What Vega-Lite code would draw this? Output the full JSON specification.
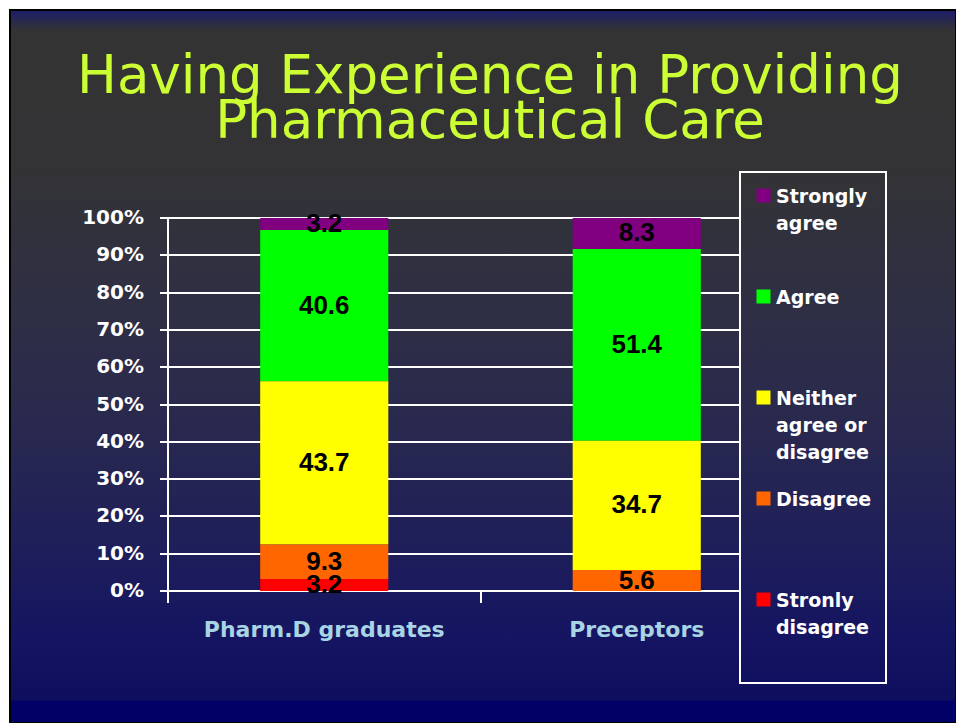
{
  "$schema": "https://vega.github.io/schema/vega-lite/v6.json",
  "width": 946,
  "height": 713,
  "autosize": {"type": "none"},
  "padding": {"left": 10, "top": 10, "right": 0, "bottom": 0},
  "background": "white",
  "view": {
    "fill": {
      "gradient": "linear", "x1": 0, "y1": 0, "x2": 0, "y2": 1,
      "stops": [
        {"offset": 0, "color": "#1c1c6c"},
        {"offset": 0.028, "color": "#333333"},
        {"offset": 0.22, "color": "#333336"},
        {"offset": 0.41, "color": "#2f2f44"},
        {"offset": 0.575, "color": "#29294e"},
        {"offset": 0.745, "color": "#1f1f5a"},
        {"offset": 0.885, "color": "#141462"},
        {"offset": 0.968, "color": "#0e0e5e"},
        {"offset": 0.969, "color": "#000066"},
        {"offset": 1, "color": "#000066"}
      ]
    },
    "stroke": "black",
    "strokeWidth": 2
  },
  "title": {
    "text": ["Having Experience in Providing", "Pharmaceutical Care"],
    "font": "DejaVu Sans",
    "fontSize": 53,
    "fontWeight": "normal",
    "color": "#ccff33",
    "lineHeight": 45,
    "anchor": "middle",
    "baseline": "alphabetic",
    "offset": -181,
    "dx": 7
  },
  "data": {"values": [
    {"group": "Pharm.D graduates", "response": "Strongly agree", "level": 5, "value": 3.2},
    {"group": "Pharm.D graduates", "response": "Agree", "level": 4, "value": 40.6},
    {"group": "Pharm.D graduates", "response": "Neither agree or disagree", "level": 3, "value": 43.7},
    {"group": "Pharm.D graduates", "response": "Disagree", "level": 2, "value": 9.3},
    {"group": "Pharm.D graduates", "response": "Stronly disagree", "level": 1, "value": 3.2},
    {"group": "Preceptors", "response": "Strongly agree", "level": 5, "value": 8.3},
    {"group": "Preceptors", "response": "Agree", "level": 4, "value": 51.4},
    {"group": "Preceptors", "response": "Neither agree or disagree", "level": 3, "value": 34.7},
    {"group": "Preceptors", "response": "Disagree", "level": 2, "value": 5.6}
  ]},
  "layer": [
    {
      "mark": {"type": "bar", "width": {"band": 0.41}},
      "encoding": {
        "x": {
          "field": "group",
          "type": "nominal",
          "scale": {"domain": ["Pharm.D graduates", "Preceptors"], "range": [158, 783], "paddingInner": 0, "paddingOuter": 0},
          "axis": {
            "orient": "bottom",
            "offset": -132,
            "translate": 0,
            "title": null,
            "grid": false,
            "labelAngle": 0,
            "domainColor": "white",
            "domainWidth": 2,
            "tickColor": "white",
            "tickWidth": 2,
            "tickSize": 12,
            "tickBand": "extent",
            "labelColor": "#a8d4e4",
            "labelFont": "DejaVu Sans",
            "labelFontWeight": "bold",
            "labelFontSize": 22,
            "labelLimit": 500,
            "labelPadding": 17
          }
        },
        "y": {
          "field": "value",
          "type": "quantitative",
          "stack": "zero",
          "scale": {"domain": [0, 100], "range": [581, 208], "nice": false},
          "axis": {
            "orient": "left",
            "offset": -158,
            "translate": 0,
            "title": null,
            "values": [0, 10, 20, 30, 40, 50, 60, 70, 80, 90, 100],
            "labelExpr": "datum.value + '%'",
            "grid": true,
            "gridColor": "white",
            "gridWidth": 2,
            "gridOpacity": 1,
            "domainColor": "white",
            "domainWidth": 2,
            "tickColor": "white",
            "tickWidth": 2,
            "tickSize": 8,
            "labelColor": "white",
            "labelFont": "DejaVu Sans",
            "labelFontWeight": "bold",
            "labelFontSize": 20,
            "labelPadding": 16
          }
        },
        "order": {"field": "level", "type": "quantitative", "sort": "ascending"},
        "color": {
          "field": "response",
          "type": "nominal",
          "sort": ["Strongly agree", "Agree", "Neither agree or disagree", "Disagree", "Stronly disagree"],
          "scale": {
            "domain": ["Strongly agree", "Agree", "Neither agree or disagree", "Disagree", "Stronly disagree"],
            "range": ["#800080", "#00ff00", "#ffff00", "#ff6600", "#ff0000"]
          },
          "legend": {
            "orient": "none",
            "legendX": 730,
            "legendY": 162,
            "title": " ",
            "titleOrient": "bottom",
            "titleFontSize": 16,
            "titlePadding": 15,
            "symbolType": "square",
            "symbolSize": 196,
            "symbolStrokeWidth": 0,
            "symbolOpacity": 1,
            "labelFont": "DejaVu Sans",
            "labelFontWeight": "bold",
            "labelFontSize": 19,
            "labelColor": "white",
            "labelLimit": 300,
            "labelOffset": 3,
            "labelBaseline": "alphabetic",
            "labelExpr": "datum.label == 'Strongly agree' ? ['Strongly', 'agree'] : datum.label == 'Neither agree or disagree' ? ['Neither', 'agree or', 'disagree'] : datum.label == 'Stronly disagree' ? ['Stronly', 'disagree'] : datum.label",
            "padding": 14,
            "rowPadding": 26,
            "gridAlign": "all",
            "encode": {
              "legend": {
                "update": {
                  "fill": {"value": {
                    "gradient": "linear", "x1": 0, "y1": 0, "x2": 0, "y2": 1,
                    "stops": [
                      {"offset": 0, "color": "#333336"},
                      {"offset": 0.25, "color": "#2f2f44"},
                      {"offset": 0.486, "color": "#29294e"},
                      {"offset": 0.722, "color": "#1f1f5a"},
                      {"offset": 0.918, "color": "#141462"},
                      {"offset": 1, "color": "#101060"}
                    ]
                  }},
                  "stroke": {"value": "white"},
                  "strokeWidth": {"value": 2}
                }
              },
              "labels": {
                "update": {
                  "dy": {"value": 7},
                  "lineHeight": {"value": 27}
                }
              }
            }
          }
        }
      }
    },
    {
      "mark": {"type": "text", "font": "Liberation Sans", "fontWeight": "bold", "fontSize": 26, "baseline": "middle", "color": "black"},
      "encoding": {
        "x": {"field": "group", "type": "nominal"},
        "y": {"field": "value", "type": "quantitative", "stack": "zero", "bandPosition": 0.5},
        "detail": {"field": "response", "type": "nominal"},
        "order": {"field": "level", "type": "quantitative", "sort": "ascending"},
        "text": {"field": "value", "type": "quantitative", "format": ".1f"}
      }
    }
  ]
}
